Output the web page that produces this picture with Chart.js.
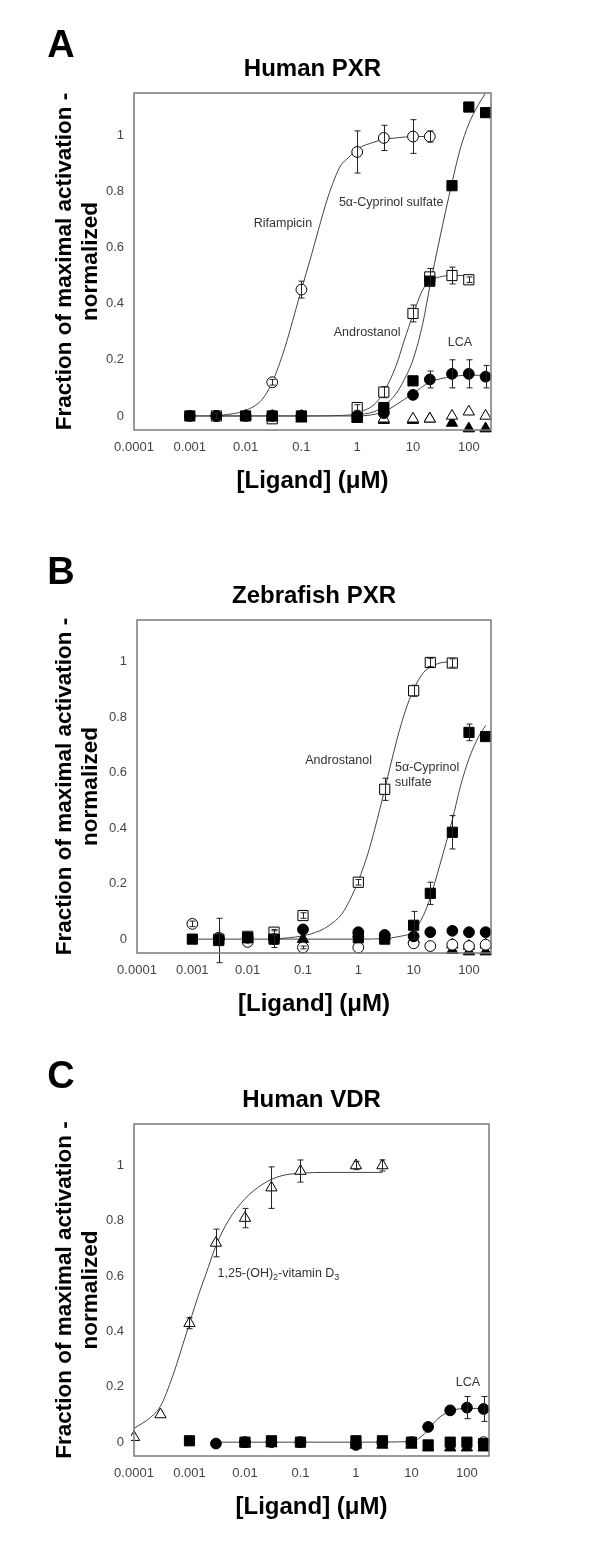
<!DOCTYPE html>
<html>
<head>
<meta charset="utf-8">
<script src="https://cdn.jsdelivr.net/npm/chart.js@4"></script>
<style>
body { margin: 0; background: #fff; }
#wrap { position: relative; width: 600px; height: 1559px; }
canvas { position: absolute; left: 0; }
</style>
</head>
<body>
<div id="wrap">
  <canvas id="chartA" width="600" height="527" style="top:0px"></canvas>
  <canvas id="chartB" width="600" height="504" style="top:527px"></canvas>
  <canvas id="chartC" width="600" height="528" style="top:1031px"></canvas>
</div>
<script>
// tick labels shared by all panels
const xTicks = [0.0001, 0.001, 0.01, 0.1, 1, 10, 100];
const xTickLabels = ['0.0001', '0.001', '0.01', '0.1', '1', '10', '100'];
const yTicks = [0, 0.2, 0.4, 0.6, 0.8, 1];
const yTickLabels = ['0', '0.2', '0.4', '0.6', '0.8', '1'];

// ---- Panel A: Human PXR ----
const rifA_x = [0.001, 0.003, 0.01, 0.03, 0.1, 1, 3, 10, 20];
const rifA_y = [0, 0, 0, 0.12, 0.45, 0.94, 0.99, 0.995, 0.995];
const rifA_err = [0, 0, 0, 0.01, 0.03, 0.075, 0.045, 0.06, 0.02];
const cypA_x = [0.001, 0.01, 0.03, 0.1, 1, 3, 10, 20, 50, 100, 200];
const cypA_y = [0, 0, 0, 0, -0.005, 0.03, 0.125, 0.48, 0.82, 1.10, 1.08];
const andA_x = [0.003, 0.03, 1, 3, 10, 20, 50, 100];
const andA_y = [0, -0.01, 0.03, 0.085, 0.365, 0.495, 0.5, 0.485];
const andA_err = [0.01, 0, 0.01, 0.02, 0.03, 0.03, 0.03, 0.01];
const lcaA_x = [0.003, 0.03, 0.1, 1, 3, 10, 20, 50, 100, 200];
const lcaA_y = [0, 0, 0, 0, 0.01, 0.075, 0.13, 0.15, 0.15, 0.14];
const lcaA_err = [0, 0, 0, 0, 0, 0, 0.03, 0.05, 0.05, 0.04];
const otriA_x = [0.01, 0.03, 0.1, 1, 3, 10, 20, 50, 100, 200];
const otriA_y = [0, 0, 0, 0, -0.01, -0.01, -0.01, 0, 0.015, 0];
const ftriA_x = [0.01, 0.03, 0.1, 1, 3, 10, 20, 50, 100, 200];
const ftriA_y = [0, -0.005, -0.01, -0.01, -0.015, -0.015, -0.01, -0.025, -0.045, -0.045];
// fitted curves
const rifA_cx = [0.003, 0.01, 0.02, 0.03, 0.05, 0.07, 0.1, 0.15, 0.2, 0.3, 0.5, 0.7, 1, 2, 3, 5, 10, 20];
const rifA_cy = [0, 0.02, 0.06, 0.12, 0.24, 0.34, 0.45, 0.57, 0.66, 0.78, 0.89, 0.92, 0.95, 0.975, 0.985, 0.99, 0.995, 0.995];
const cypA_cx = [0.001, 0.1, 1, 2, 3, 5, 7, 10, 15, 20, 30, 50, 70, 100, 150, 200];
const cypA_cy = [0, 0, 0.005, 0.015, 0.035, 0.08, 0.13, 0.2, 0.33, 0.46, 0.63, 0.83, 0.95, 1.04, 1.11, 1.15];
const andA_cx = [1, 2, 3, 5, 7, 10, 15, 20, 30, 50, 100];
const andA_cy = [0.01, 0.04, 0.085, 0.18, 0.27, 0.36, 0.45, 0.48, 0.495, 0.5, 0.5];
const lcaA_cx = [0.001, 1, 3, 5, 10, 20, 50, 100, 200];
const lcaA_cy = [0, 0, 0.015, 0.04, 0.08, 0.12, 0.14, 0.145, 0.145];

// ---- Panel B: Zebrafish PXR ----
const andB_x = [0.003, 0.01, 0.03, 0.1, 1, 3, 10, 20, 50];
const andB_y = [0, 0.01, 0.025, 0.085, 0.205, 0.54, 0.895, 0.997, 0.995];
const andB_err = [0, 0, 0.01, 0.01, 0.01, 0.04, 0.02, 0.015, 0.015];
const cypB_x = [0.001, 0.003, 0.01, 0.03, 1, 3, 10, 20, 50, 100, 200];
const cypB_y = [0, -0.005, 0.005, 0, 0.005, 0, 0.05, 0.165, 0.385, 0.745, 0.73];
const cypB_err = [0, 0.08, 0, 0.03, 0, 0, 0.05, 0.04, 0.06, 0.03, 0];
const lcaB_x = [0.003, 0.01, 0.03, 0.1, 1, 3, 10, 20, 50, 100, 200];
const lcaB_y = [0, 0.005, 0, 0.035, 0.025, 0.015, 0.01, 0.025, 0.03, 0.025, 0.025];
const ocirB_x = [0.001, 0.003, 0.01, 0.03, 0.1, 1, 10, 20, 50, 100, 200];
const ocirB_y = [0.055, 0.005, -0.01, 0.01, -0.03, -0.03, -0.015, -0.025, -0.02, -0.025, -0.02];
const ocirB_err = [0.01, 0, 0, 0, 0.005, 0, 0, 0, 0, 0, 0];
const ftriB_x = [0.1, 1, 3, 10, 50, 100, 200];
const ftriB_y = [0, 0.02, 0.01, 0, -0.04, -0.045, -0.045];
const otriB_x = [50, 100, 200];
const otriB_y = [-0.02, -0.025, -0.02];
const andB_cx = [0.03, 0.1, 0.2, 0.3, 0.5, 0.7, 1, 1.5, 2, 3, 5, 7, 10, 15, 20, 30, 50];
const andB_cy = [0, 0.012, 0.03, 0.05, 0.09, 0.14, 0.21, 0.31, 0.4, 0.54, 0.72, 0.82, 0.9, 0.96, 0.98, 0.995, 1.0];
const cypB_cx = [0.001, 1, 3, 5, 10, 15, 20, 30, 50, 70, 100, 150, 200];
const cypB_cy = [0, 0, 0.002, 0.008, 0.03, 0.085, 0.15, 0.27, 0.43, 0.55, 0.65, 0.73, 0.77];

// ---- Panel C: Human VDR ----
const vdC_x = [0.0001, 0.0003, 0.001, 0.003, 0.01, 0.03, 0.1, 1, 3];
const vdC_y = [0.018, 0.1, 0.43, 0.72, 0.81, 0.92, 0.98, 1.0, 1.0];
const vdC_err = [0, 0, 0.02, 0.05, 0.035, 0.075, 0.04, 0.015, 0.02];
const cypC_x = [0.001, 0.01, 0.03, 0.1, 1, 3, 10, 20, 50, 100, 200];
const cypC_y = [0.005, 0, 0.005, 0, 0.005, 0.005, 0, -0.01, 0, 0, -0.005];
const lcaC_x = [0.003, 0.01, 0.03, 0.1, 1, 3, 10, 20, 50, 100, 200];
const lcaC_y = [-0.005, 0, 0, 0, -0.01, 0, 0, 0.055, 0.115, 0.125, 0.12];
const lcaC_err = [0, 0, 0, 0, 0, 0, 0, 0, 0, 0.04, 0.045];
const ftriC_x = [0.01, 0.03, 1, 3, 10, 20, 50, 100, 200];
const ftriC_y = [-0.005, -0.005, -0.01, -0.01, -0.01, -0.02, -0.02, -0.02, -0.02];
const ocirC_x = [200];
const ocirC_y = [0];
const vdC_cx = [0.0001, 0.0002, 0.0003, 0.0005, 0.0007, 0.001, 0.0015, 0.002, 0.003, 0.005, 0.01, 0.02, 0.03, 0.05, 0.1, 0.3, 1, 3];
const vdC_cy = [0.05, 0.09, 0.13, 0.24, 0.33, 0.43, 0.54, 0.61, 0.71, 0.8, 0.88, 0.93, 0.95, 0.965, 0.972, 0.975, 0.975, 0.975];
const lcaC_cx = [0.003, 1, 10, 15, 20, 30, 50, 70, 100, 200];
const lcaC_cy = [0, 0, 0.002, 0.02, 0.045, 0.085, 0.112, 0.12, 0.122, 0.122];

const FONT = '"Liberation Sans", Arial, sans-serif';

function pts(xs, ys) {
    return xs.map((x, i) => ({ x: x, y: ys[i] }));
}

function marker(xs, ys, style, filled, errs) {
    return {
        type: 'scatter',
        data: pts(xs, ys),
        pointStyle: style,
        pointRadius: style === 'rect' ? 7.2 : (style === 'triangle' ? 6.5 : 5.4),
        backgroundColor: filled ? '#000' : '#fff',
        borderColor: '#000',
        borderWidth: 1,
        errors: errs || null,
        order: 1,
        clip: 3
    };
}

function curve(xs, ys) {
    return {
        type: 'line',
        data: pts(xs, ys),
        borderColor: '#444',
        borderWidth: 1,
        pointRadius: 0,
        fill: false,
        cubicInterpolationMode: 'monotone',
        order: 2
    };
}

// error bars, box, titles and labels
const panelDecor = {
    id: 'panelDecor',
    afterDatasetsDraw(chart) {
        const ctx = chart.ctx;
        const xs = chart.scales.x, ys = chart.scales.y;
        ctx.save();
        ctx.strokeStyle = '#222';
        ctx.lineWidth = 1;
        chart.data.datasets.forEach(ds => {
            if (!ds.errors) return;
            ds.data.forEach((p, i) => {
                const e = ds.errors[i];
                if (!e) return;
                const px = Math.round(xs.getPixelForValue(p.x)) + 0.5;
                const top = ys.getPixelForValue(p.y + e);
                const bot = ys.getPixelForValue(p.y - e);
                ctx.beginPath();
                ctx.moveTo(px, top); ctx.lineTo(px, bot);
                ctx.moveTo(px - 3, top); ctx.lineTo(px + 3, top);
                ctx.moveTo(px - 3, bot); ctx.lineTo(px + 3, bot);
                ctx.stroke();
            });
        });
        ctx.restore();
    },
    afterDraw(chart, args, o) {
        const ctx = chart.ctx, a = chart.chartArea;
        const xs = chart.scales.x, ys = chart.scales.y;
        ctx.save();
        // plot frame
        ctx.strokeStyle = '#7a7a7a';
        ctx.lineWidth = 1.5;
        ctx.strokeRect(a.left, a.top, a.right - a.left, a.bottom - a.top);

        ctx.fillStyle = '#000';
        ctx.textAlign = 'center';
        ctx.textBaseline = 'middle';
        ctx.font = 'bold 38px ' + FONT;
        ctx.fillText(o.letter, 61, a.top - 46);
        ctx.font = 'bold 24px ' + FONT;
        ctx.fillText(o.title, (a.left + a.right) / 2, a.top - 24);
        ctx.fillText('[Ligand] (\u03bcM)', (a.left + a.right) / 2, a.bottom + 51);

        const midY = (a.top + a.bottom) / 2;
        ctx.translate(65, midY);
        ctx.rotate(-Math.PI / 2);
        ctx.font = 'bold 22.5px ' + FONT;
        ctx.fillText('Fraction of maximal activation -', 0, 0);
        ctx.fillText('normalized', 0, 26);
        ctx.setTransform(1, 0, 0, 1, 0, 0);

        // curve labels
        ctx.fillStyle = '#333';
        ctx.textAlign = 'left';
        o.notes.forEach(n => {
            let px = xs.getPixelForValue(n.x);
            const py = ys.getPixelForValue(n.y);
            n.parts.forEach(part => {
                const sub = part[1];
                ctx.font = (sub ? '9px ' : '12.5px ') + FONT;
                ctx.fillText(part[0], px, py + (sub ? 4 : 0));
                px += ctx.measureText(part[0]).width;
            });
        });
        ctx.restore();
    }
};

function makePanel(id, box, letter, title, datasets, notes) {
    const canvas = document.getElementById(id);
    const H = canvas.height;
    return new Chart(canvas.getContext('2d'), {
        type: 'scatter',
        data: { datasets: datasets },
        options: {
            responsive: false,
            animation: false,
            layout: { padding: { top: box.top, right: 600 - box.right, left: 0, bottom: 0 } },
            plugins: {
                legend: { display: false },
                tooltip: { enabled: false },
                panelDecor: { letter: letter, title: title, notes: notes }
            },
            scales: {
                x: {
                    type: 'logarithmic',
                    min: 0.0001,
                    max: 250,
                    grid: { display: false, drawTicks: false },
                    border: { display: false },
                    afterBuildTicks: s => { s.ticks = xTicks.map(v => ({ value: v })); },
                    afterFit: s => { s.height = H - box.bottom; },
                    ticks: {
                        autoSkip: false,
                        maxRotation: 0,
                        padding: 10,
                        color: '#444',
                        font: { family: FONT, size: 13 },
                        callback: v => xTickLabels[xTicks.indexOf(v)]
                    }
                },
                y: {
                    min: -0.05,
                    max: 1.15,
                    grid: { display: false, drawTicks: false },
                    border: { display: false },
                    afterBuildTicks: s => { s.ticks = yTicks.map(v => ({ value: v })); },
                    afterFit: s => { s.width = box.left; },
                    ticks: {
                        padding: 10,
                        color: '#444',
                        font: { family: FONT, size: 13 },
                        callback: v => yTickLabels[yTicks.indexOf(v)]
                    }
                }
            }
        },
        plugins: [panelDecor]
    });
}

makePanel('chartA', { left: 134, right: 491, top: 93, bottom: 430 }, 'A', 'Human PXR', [
    marker(cypA_x, cypA_y, 'rect', true),
    marker(lcaA_x, lcaA_y, 'circle', true, lcaA_err),
    marker(andA_x, andA_y, 'rect', false, andA_err),
    marker(rifA_x, rifA_y, 'circle', false, rifA_err),
    marker(otriA_x, otriA_y, 'triangle', false),
    marker(ftriA_x, ftriA_y, 'triangle', true),
    curve(rifA_cx, rifA_cy),
    curve(cypA_cx, cypA_cy),
    curve(andA_cx, andA_cy),
    curve(lcaA_cx, lcaA_cy)
], [
    { x: 0.014, y: 0.686, parts: [['Rifampicin', 0]] },
    { x: 0.47, y: 0.76, parts: [['5\u03b1-Cyprinol sulfate', 0]] },
    { x: 0.38, y: 0.296, parts: [['Androstanol', 0]] },
    { x: 42, y: 0.26, parts: [['LCA', 0]] }
]);

makePanel('chartB', { left: 137, right: 491, top: 93, bottom: 426 }, 'B', 'Zebrafish PXR', [
    marker(cypB_x, cypB_y, 'rect', true, cypB_err),
    marker(lcaB_x, lcaB_y, 'circle', true),
    marker(andB_x, andB_y, 'rect', false, andB_err),
    marker(ocirB_x, ocirB_y, 'circle', false, ocirB_err),
    marker(otriB_x, otriB_y, 'triangle', false),
    marker(ftriB_x, ftriB_y, 'triangle', true),
    curve(andB_cx, andB_cy),
    curve(cypB_cx, cypB_cy)
], [
    { x: 0.11, y: 0.645, parts: [['Androstanol', 0]] },
    { x: 4.6, y: 0.62, parts: [['5\u03b1-Cyprinol', 0]] },
    { x: 4.6, y: 0.565, parts: [['sulfate', 0]] }
]);

makePanel('chartC', { left: 134, right: 489, top: 93, bottom: 425 }, 'C', 'Human VDR', [
    marker(cypC_x, cypC_y, 'rect', true),
    marker(lcaC_x, lcaC_y, 'circle', true, lcaC_err),
    marker(ftriC_x, ftriC_y, 'triangle', true),
    marker(ocirC_x, ocirC_y, 'circle', false),
    marker(vdC_x, vdC_y, 'triangle', false, vdC_err),
    curve(vdC_cx, vdC_cy),
    curve(lcaC_cx, lcaC_cy)
], [
    { x: 0.0032, y: 0.61, parts: [['1,25-(OH)', 0], ['2', 1], ['-vitamin D', 0], ['3', 1]] },
    { x: 63, y: 0.215, parts: [['LCA', 0]] }
]);
</script>
</body>
</html>
